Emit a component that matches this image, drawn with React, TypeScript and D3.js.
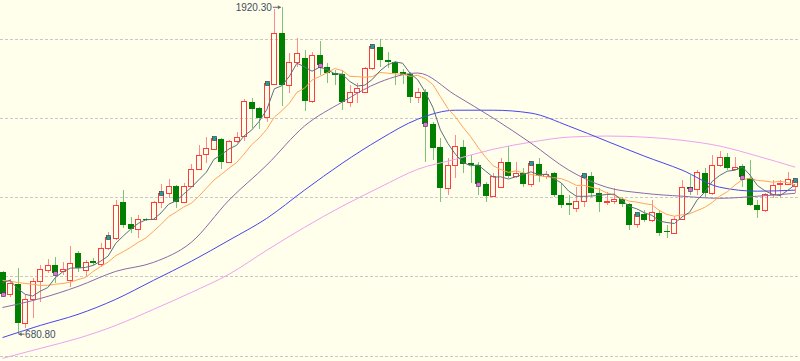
import React from 'react';
import * as d3 from 'd3';

// OHLC data (daily candles)
const opens = [915, 832, 870, 722, 816, 881, 923, 942, 919, 885, 987, 923, 957, 946, 1006, 1044, 1181, 1098, 1079, 1116,
  1116, 1181, 1215, 1242, 1181, 1242, 1306, 1363, 1382, 1420, 1333, 1413, 1432, 1561, 1538, 1504, 1629, 1823, 1625, 1713,
  1728, 1565, 1739, 1694, 1671, 1667, 1561, 1599, 1599, 1690, 1770, 1720, 1713, 1675, 1667, 1580, 1599, 1477, 1390, 1234,
  1322, 1390, 1329, 1322, 1249, 1204, 1238, 1333, 1280, 1291, 1249, 1325, 1280, 1291, 1208, 1177, 1158, 1185, 1280, 1215,
  1183, 1185, 1192, 1173, 1098, 1135, 1113, 1139, 1071, 1063, 1116, 1238, 1230, 1291, 1215, 1322, 1352, 1306, 1318, 1272,
  1170, 1151, 1211, 1249, 1249, 1242];
const highs = [919, 889, 930, 828, 892, 942, 965, 972, 953, 1014, 995, 961, 968, 1025, 1067, 1189, 1227, 1124, 1132, 1120,
  1185, 1249, 1268, 1246, 1253, 1325, 1398, 1428, 1428, 1424, 1417, 1447, 1572, 1576, 1542, 1637, 1912, 1920.3, 1747, 1804,
  1758, 1751, 1792, 1709, 1682, 1682, 1625, 1633, 1694, 1781, 1800, 1751, 1716, 1686, 1675, 1614, 1610, 1485, 1424, 1348,
  1436, 1417, 1360, 1333, 1257, 1291, 1348, 1394, 1333, 1310, 1337, 1348, 1299, 1295, 1253, 1208, 1238, 1291, 1295, 1234,
  1219, 1234, 1200, 1177, 1143, 1151, 1189, 1151, 1094, 1128, 1265, 1284, 1303, 1310, 1360, 1375, 1367, 1352, 1325, 1341,
  1189, 1215, 1265, 1265, 1295, 1272];
const lows = [820, 820, 680.8, 703, 741, 801, 911, 873, 904, 858, 915, 900, 942, 934, 999, 1037, 1082, 1063, 1044, 1109,
  1113, 1158, 1196, 1158, 1177, 1238, 1303, 1329, 1379, 1306, 1329, 1405, 1413, 1462, 1458, 1485, 1625, 1546, 1595, 1694,
  1527, 1557, 1663, 1633, 1625, 1530, 1542, 1557, 1595, 1682, 1694, 1690, 1625, 1629, 1557, 1557, 1335, 1341, 1181, 1208,
  1272, 1291, 1253, 1208, 1181, 1200, 1234, 1272, 1272, 1238, 1238, 1257, 1268, 1200, 1158, 1132, 1143, 1162, 1200, 1143,
  1170, 1173, 1162, 1075, 1082, 1105, 1105, 1052, 1044, 1060, 1113, 1208, 1208, 1200, 1208, 1314, 1303, 1303, 1238, 1166,
  1120, 1143, 1196, 1196, 1246, 1215];
const closes = [835, 873, 722, 816, 881, 927, 942, 911, 927, 949, 930, 953, 949, 1006, 1048, 1170, 1094, 1079, 1116, 1113,
  1181, 1215, 1242, 1181, 1242, 1306, 1360, 1386, 1424, 1333, 1413, 1428, 1565, 1534, 1500, 1633, 1823, 1625, 1713, 1747,
  1565, 1739, 1701, 1671, 1663, 1561, 1599, 1614, 1690, 1773, 1720, 1713, 1671, 1663, 1580, 1599, 1477, 1386, 1234, 1322,
  1394, 1325, 1322, 1249, 1204, 1280, 1333, 1280, 1291, 1249, 1329, 1280, 1287, 1208, 1170, 1170, 1185, 1284, 1215, 1181,
  1187, 1192, 1173, 1094, 1135, 1113, 1143, 1063, 1067, 1116, 1238, 1230, 1295, 1215, 1322, 1352, 1310, 1314, 1276, 1170,
  1151, 1211, 1246, 1253, 1268, 1265];

// moving averages: short ones computed from closes (lead values read for the first candles)
const ma5Lead = [877, 885, 854, 832];
const ma10Lead = [885, 881, 877, 873, 870, 866, 866, 870, 873];
// long ones read every 5th candle
const maSampleIdx = [0, 5, 10, 15, 20, 25, 30, 35, 40, 45, 50, 55, 60, 65, 70, 75, 80, 85, 90, 95, 100, 105];
const ma20 = [782, 816, 862, 919, 953, 1029, 1189, 1322, 1470, 1561, 1637, 1671, 1587, 1500, 1405, 1303, 1238, 1215, 1204, 1196, 1204, 1215];
const ma40 = [668, 714, 756, 813, 885, 957, 1037, 1120, 1227, 1329, 1420, 1496, 1530, 1530, 1519, 1470, 1413, 1356, 1303, 1238, 1223, 1227];
const ma60 = [589, 627, 665, 714, 775, 839, 908, 999, 1086, 1166, 1238, 1306, 1344, 1382, 1409, 1428, 1432, 1428, 1416, 1394, 1356, 1314];

const markerIdx = [0, 7, 14, 21, 28, 35, 42, 49, 56, 63, 70, 77, 84, 91, 98, 105];
const gridValues = [600, 900, 1200, 1500, 1800];

const W = 800;
const H = 361;

export default function App() {
  const n = closes.length;
  const x = d3.scaleLinear().domain([0, n - 1]).range([2.5, 795.25]);
  const y = d3.scaleLinear().domain([600, 1800]).range([355.5, 39]);

  const ma5 = closes.map((_, i) => (i < 4 ? ma5Lead[i] : d3.mean(closes.slice(i - 4, i + 1)) as number));
  const ma10 = closes.map((_, i) => (i < 9 ? ma10Lead[i] : d3.mean(closes.slice(i - 9, i + 1)) as number));

  const lineAll = d3.line<number>().x((_, i) => x(i)).y((d) => y(d)).curve(d3.curveLinear);
  const lineSample = d3
    .line<number>()
    .x((_, i) => x(maSampleIdx[i]))
    .y((d) => y(d))
    .curve(d3.curveMonotoneX);

  const maxI = d3.maxIndex(highs);
  const minI = d3.minIndex(lows);

  const candles = closes.map((c, i) => {
    const o = opens[i];
    const up = c >= o;
    const cx = Math.round(x(i));
    const top = Math.round(y(Math.max(o, c)));
    const bot = Math.round(y(Math.min(o, c)));
    const hy = Math.round(y(highs[i]));
    const ly = Math.round(y(lows[i]));
    const wx = cx + 0.5;
    if (up) {
      return (
        <g key={i}>
          <line x1={wx} x2={wx} y1={hy} y2={top} stroke="#ff8a8a" strokeWidth={1} />
          <line x1={wx} x2={wx} y1={bot + 1} y2={ly} stroke="#ff8a8a" strokeWidth={1} />
          <rect x={cx - 2.5} y={top + 0.5} width={5} height={Math.max(bot - top, 0)} fill="none" stroke="#ff3b3b" strokeWidth={1} />
        </g>
      );
    }
    return (
      <g key={i}>
        <line x1={wx} x2={wx} y1={hy} y2={ly} stroke="#7cc47c" strokeWidth={1} />
        <rect x={cx - 3} y={top} width={6} height={Math.max(bot - top, 1)} fill="#008000" />
      </g>
    );
  });

  const markers = markerIdx.map((i) => {
    const up = closes[i] >= opens[i];
    const cx = Math.round(x(i));
    const cy = Math.round(y(closes[i]));
    return (
      <rect
        key={'m' + i}
        x={cx - 1.5}
        y={cy - 1.5}
        width={4}
        height={4}
        fill={up ? '#1f9c9c' : '#e070e0'}
        stroke="#333"
        strokeWidth={0.6}
      />
    );
  });

  const mxX = x(maxI);
  const mxY = y(highs[maxI]);
  const mnX = x(minI);
  const mnY = y(lows[minI]);

  return (
    <svg width={W} height={H} style={{ position: 'absolute', left: 0, top: 0 }}>
      <defs>
        <clipPath id="plot">
          <rect x={0} y={0} width={W} height={H} />
        </clipPath>
      </defs>
      <rect x={0} y={0} width={W} height={H} fill="#ffffec" />
      {gridValues.map((v) => (
        <line key={v} x1={0} x2={W} y1={Math.round(y(v)) + 0.5} y2={Math.round(y(v)) + 0.5} stroke="#c8c8c8" strokeWidth={1} strokeDasharray="3,2" />
      ))}
      <g clipPath="url(#plot)">
        {candles}
        <path d={lineSample(ma60) || ''} fill="none" stroke="#f0a0f0" strokeWidth={1} />
        <path d={lineSample(ma40) || ''} fill="none" stroke="#4646ee" strokeWidth={1} />
        <path d={lineSample(ma20) || ''} fill="none" stroke="#8a6aa8" strokeWidth={1} />
        <path d={lineAll(ma10) || ''} fill="none" stroke="#ffa45a" strokeWidth={1} />
        <path d={lineAll(ma5) || ''} fill="none" stroke="#5a7080" strokeWidth={1} />
        {markers}
      </g>
      <g fontFamily="'Liberation Sans', Arial, sans-serif" fontSize={10} fill="#3f4f60">
        <text x={mxX - 10} y={mxY + 3.5} textAnchor="end">{d3.format('.2f')(highs[maxI])}</text>
        <line x1={mxX - 9} x2={mxX - 1} y1={mxY} y2={mxY} stroke="#666" strokeWidth={1} />
        <path d={`M${mxX - 1},${mxY} l-3,-2 l0,4 z`} fill="#666" />
        <text x={mnX + 7.5} y={mnY + 3.5} textAnchor="start">{d3.format('.2f')(lows[minI])}</text>
        <line x1={mnX + 1} x2={mnX + 7} y1={mnY} y2={mnY} stroke="#666" strokeWidth={1} />
        <path d={`M${mnX + 1},${mnY} l3,-2 l0,4 z`} fill="#666" />
      </g>
    </svg>
  );
}
